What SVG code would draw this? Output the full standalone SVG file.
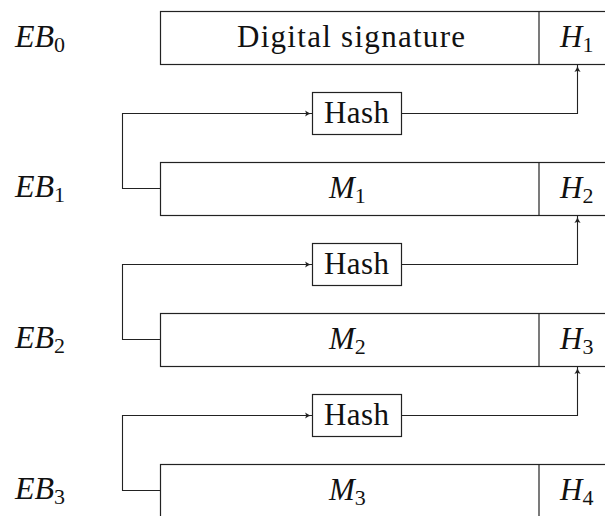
<svg xmlns="http://www.w3.org/2000/svg" width="605" height="516" viewBox="0 0 605 516">
<defs>
<marker id="arr" viewBox="0 0 10 10" refX="9" refY="5" markerWidth="8" markerHeight="8" markerUnits="userSpaceOnUse" orient="auto">
<path d="M0,1 Q5,5 10,5 Q5,5 0,9 Q3,5 0,1 Z" fill="#222"/>
</marker>
</defs>
<g id="labels">
<text x="15" y="47" font-family="'Liberation Serif', serif" font-size="32" font-style="italic" fill="#111">EB<tspan dy="5" font-size="22" font-style="normal">0</tspan></text>
<text x="15" y="197" font-family="'Liberation Serif', serif" font-size="32" font-style="italic" fill="#111">EB<tspan dy="5" font-size="22" font-style="normal">1</tspan></text>
<text x="15" y="348" font-family="'Liberation Serif', serif" font-size="32" font-style="italic" fill="#111">EB<tspan dy="5" font-size="22" font-style="normal">2</tspan></text>
<text x="15" y="499" font-family="'Liberation Serif', serif" font-size="32" font-style="italic" fill="#111">EB<tspan dy="5" font-size="22" font-style="normal">3</tspan></text>
</g>
<g id="eb0">
<rect x="160.5" y="11.5" width="460" height="53" fill="#fff" stroke="#222" stroke-width="1.2"/>
<line x1="539" y1="11.5" x2="539" y2="64.5" stroke="#222" stroke-width="1.2"/>
<text x="237" y="47" textLength="228" lengthAdjust="spacing" font-family="'Liberation Serif', serif" font-size="31" fill="#111">Digital signature</text>
<text x="560" y="47" font-family="'Liberation Serif', serif" font-size="31" font-style="italic" fill="#111">H<tspan dy="5" font-size="22" font-style="normal">1</tspan></text>
</g>
<g id="eb1">
<rect x="160.5" y="162.5" width="460" height="53" fill="#fff" stroke="#222" stroke-width="1.2"/>
<line x1="539" y1="162.5" x2="539" y2="215.5" stroke="#222" stroke-width="1.2"/>
<text x="329" y="198" font-family="'Liberation Serif', serif" font-size="31" font-style="italic" fill="#111">M<tspan dy="5" font-size="22" font-style="normal">1</tspan></text>
<text x="560" y="198" font-family="'Liberation Serif', serif" font-size="31" font-style="italic" fill="#111">H<tspan dy="5" font-size="22" font-style="normal">2</tspan></text>
</g>
<g id="eb2">
<rect x="160.5" y="313.5" width="460" height="53" fill="#fff" stroke="#222" stroke-width="1.2"/>
<line x1="539" y1="313.5" x2="539" y2="366.5" stroke="#222" stroke-width="1.2"/>
<text x="329" y="349" font-family="'Liberation Serif', serif" font-size="31" font-style="italic" fill="#111">M<tspan dy="5" font-size="22" font-style="normal">2</tspan></text>
<text x="560" y="349" font-family="'Liberation Serif', serif" font-size="31" font-style="italic" fill="#111">H<tspan dy="5" font-size="22" font-style="normal">3</tspan></text>
</g>
<g id="eb3">
<rect x="160.5" y="464.5" width="460" height="60" fill="#fff" stroke="#222" stroke-width="1.2"/>
<line x1="539" y1="464.5" x2="539" y2="520" stroke="#222" stroke-width="1.2"/>
<text x="329" y="500" font-family="'Liberation Serif', serif" font-size="31" font-style="italic" fill="#111">M<tspan dy="5" font-size="22" font-style="normal">3</tspan></text>
<text x="560" y="500" font-family="'Liberation Serif', serif" font-size="31" font-style="italic" fill="#111">H<tspan dy="5" font-size="22" font-style="normal">4</tspan></text>
</g>
<g id="hash1">
<rect x="312.5" y="92.5" width="89" height="42" fill="#fff" stroke="#222" stroke-width="1.2"/>
<text x="324" y="123" textLength="65" lengthAdjust="spacing" font-family="'Liberation Serif', serif" font-size="31" fill="#111">Hash</text>
</g>
<g id="hash2">
<rect x="312.5" y="243.5" width="89" height="42" fill="#fff" stroke="#222" stroke-width="1.2"/>
<text x="324" y="274" textLength="65" lengthAdjust="spacing" font-family="'Liberation Serif', serif" font-size="31" fill="#111">Hash</text>
</g>
<g id="hash3">
<rect x="312.5" y="394.5" width="89" height="42" fill="#fff" stroke="#222" stroke-width="1.2"/>
<text x="324" y="425" textLength="65" lengthAdjust="spacing" font-family="'Liberation Serif', serif" font-size="31" fill="#111">Hash</text>
</g>
<g id="connectors" fill="none" stroke="#222" stroke-width="1.1">
<path d="M160.5,188.5 H122.5 V113.5 H312" marker-end="url(#arr)"/>
<path d="M401.5,113.5 H577.5 V65" marker-end="url(#arr)"/>
<path d="M160.5,339.5 H122.5 V264.5 H312" marker-end="url(#arr)"/>
<path d="M401.5,264.5 H577.5 V216" marker-end="url(#arr)"/>
<path d="M160.5,490.5 H122.5 V415.5 H312" marker-end="url(#arr)"/>
<path d="M401.5,415.5 H577.5 V367" marker-end="url(#arr)"/>
</g>
</svg>
